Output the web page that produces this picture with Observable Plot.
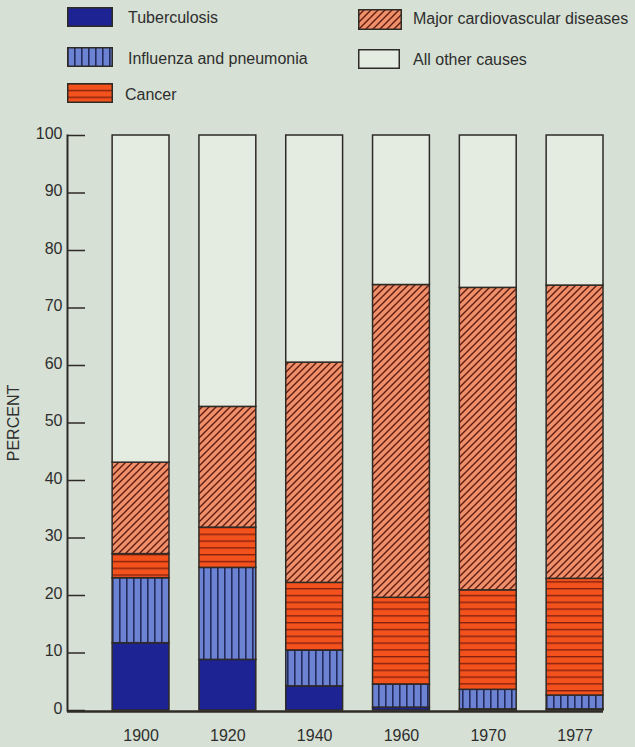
<!DOCTYPE html>
<html>
<head>
<meta charset="utf-8">
<script src="https://cdn.jsdelivr.net/npm/d3@7"></script>
<script src="https://cdn.jsdelivr.net/npm/@observablehq/plot@0.6"></script>
<style>
  html, body { margin: 0; padding: 0; background: #d6e0d4; }
  body { width: 635px; height: 747px; overflow: hidden; font-family: "Liberation Sans", Arial, Helvetica, sans-serif; color: #2e2e2e; }
  #legend { position: relative; height: 112px; }
  .sw { position: absolute; }
  .lt { position: absolute; font-size: 16px; line-height: 20px; color: #2e2e2e; white-space: nowrap; }
</style>
</head>
<body>
<svg width="0" height="0" style="position:absolute">
  <defs>
    <pattern id="pat-tb" patternUnits="userSpaceOnUse" width="6" height="6">
      <rect width="6" height="6" fill="#1d2392"/>
    </pattern>
    <pattern id="pat-flu" patternUnits="userSpaceOnUse" width="7" height="7">
      <rect width="7" height="7" fill="#6c82d2"/>
      <rect x="0" y="0" width="1.6" height="7" fill="#232a5e"/>
    </pattern>
    <pattern id="pat-cancer" patternUnits="userSpaceOnUse" width="7" height="6.8">
      <rect width="7" height="6.8" fill="#f4521c"/>
      <rect x="0" y="0" width="7" height="1.4" fill="#86220f"/>
    </pattern>
    <pattern id="pat-cvd" patternUnits="userSpaceOnUse" width="7" height="7">
      <rect width="7" height="7" fill="#f0906a"/>
      <path d="M0,7 L7,0 M-1,1 L1,-1 M6,8 L8,6" stroke="#5e1c10" stroke-width="1.4"/>
    </pattern>
    <pattern id="pat-other" patternUnits="userSpaceOnUse" width="6" height="6">
      <rect width="6" height="6" fill="#e4ebe1"/>
    </pattern>
  </defs>
</svg>
<div id="legend"></div>
<div id="chart"></div>
<script>
// ---- data ----
const years = ["1900", "1920", "1940", "1960", "1970", "1977"];
const causes = ["Tuberculosis", "Influenza and pneumonia", "Cancer", "Major cardiovascular diseases", "All other causes"];
const tuberculosis = [11.7, 8.8, 4.2, 0.5, 0.2, 0.2];
const influenza    = [11.3, 16.0, 6.2, 4.0, 3.4, 2.4];
const cancer       = [4.2, 7.0, 11.8, 15.1, 17.3, 20.3];
const cardio       = [15.9, 21.0, 38.3, 54.4, 52.6, 51.0];
const other        = [56.9, 47.2, 39.5, 26.0, 26.5, 26.1];
const yTicks = [0, 10, 20, 30, 40, 50, 60, 70, 80, 90, 100];

// ---- styles ----
const fills = ["url(#pat-tb)", "url(#pat-flu)", "url(#pat-cancer)", "url(#pat-cvd)", "url(#pat-other)"];
const ink = "#2e2a26";

const series = [tuberculosis, influenza, cancer, cardio, other];
const rows = [];
years.forEach((yr, i) => causes.forEach((c, j) => rows.push({year: yr, cause: c, value: series[j][i]})));

// ---- legend ----
const legendItems = [
  {i: 0, sx: 67, sy: 7, sw: 46, sh: 20, tx: 128, ty: 8},
  {i: 1, sx: 67, sy: 47, sw: 46, sh: 20, tx: 128, ty: 49},
  {i: 2, sx: 67, sy: 83, sw: 46, sh: 20, tx: 125, ty: 85},
  {i: 3, sx: 358, sy: 9, sw: 44, sh: 21, tx: 413, ty: 9},
  {i: 4, sx: 358, sy: 49, sw: 42, sh: 20, tx: 413, ty: 50}
];
const legend = document.getElementById("legend");
for (const it of legendItems) {
  const ns = "http://www.w3.org/2000/svg";
  const s = document.createElementNS(ns, "svg");
  s.setAttribute("class", "sw");
  s.setAttribute("width", it.sw);
  s.setAttribute("height", it.sh);
  s.style.left = it.sx + "px";
  s.style.top = it.sy + "px";
  const r = document.createElementNS(ns, "rect");
  r.setAttribute("x", 0.75); r.setAttribute("y", 0.75);
  r.setAttribute("width", it.sw - 1.5); r.setAttribute("height", it.sh - 1.5);
  r.setAttribute("fill", fills[it.i]);
  r.setAttribute("stroke", ink);
  r.setAttribute("stroke-width", 1.5);
  s.appendChild(r);
  legend.appendChild(s);
  const t = document.createElement("div");
  t.className = "lt";
  t.style.left = it.tx + "px";
  t.style.top = it.ty + "px";
  t.textContent = causes[it.i];
  legend.appendChild(t);
}

// ---- chart ----
const chart = Plot.plot({
  width: 635,
  height: 635,
  marginTop: 23,
  marginBottom: 37,
  marginLeft: 67,
  marginRight: 32,
  style: {background: "transparent", fontFamily: "'Liberation Sans', Arial, sans-serif", fontSize: "16px", color: "#2e2e2e"},
  x: {domain: years, paddingInner: 0.345, paddingOuter: 0.26, align: 1, round: false},
  y: {domain: [0, 100]},
  color: {domain: causes, range: fills},
  marks: [
    Plot.barY(rows, {x: "year", y: "value", fill: "cause", stroke: ink, strokeWidth: 1.5}),
    Plot.ruleY(yTicks, {stroke: ink, strokeWidth: 1.5, insetRight: 518}),
    Plot.frame({anchor: "left", stroke: ink, strokeWidth: 2}),
    Plot.ruleY([0], {stroke: ink, strokeWidth: 2.5, dy: 1}),
    Plot.axisY({ticks: yTicks, tickSize: 0, tickPadding: 5, fontSize: 16, dy: -2, label: "PERCENT", labelAnchor: "center", labelOffset: 60, labelArrow: "none"}),
    Plot.axisX({tickSize: 0, tickPadding: 19, fontSize: 16, label: null})
  ]
});
document.getElementById("chart").appendChild(chart);
</script>
</body>
</html>
